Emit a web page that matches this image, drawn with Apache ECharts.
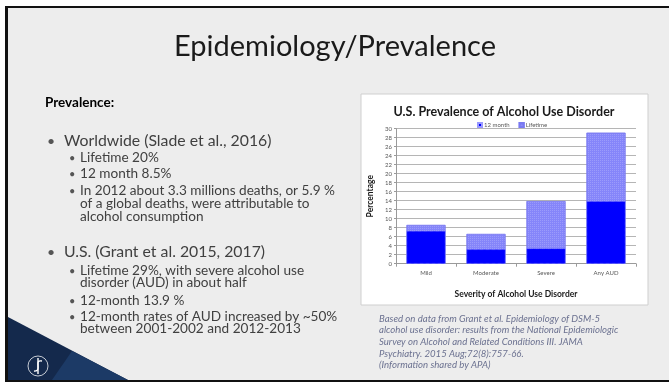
<!DOCTYPE html>
<html>
<head>
<meta charset="utf-8">
<script src="https://cdn.jsdelivr.net/npm/echarts@6/dist/echarts.min.js"></script>
<style>
  html, body { margin: 0; padding: 0; background: #ededed; }
  #slide { width: 669px; height: 382px; }
</style>
</head>
<body>
<div id="slide"></div>
<script>
// Chart data: U.S. prevalence of alcohol use disorder (%)
const categories = ['Mild', 'Moderate', 'Severe', 'Any AUD'];
const month12 = [7.3, 3.2, 3.4, 13.9];
const lifetime = [8.6, 6.6, 13.9, 29.1];
const seriesNames = ['12 month', 'Lifetime'];
const yMin = 0, yMax = 30, yStep = 2;

// Slide text
const slideTitle = 'Epidemiology/Prevalence';
const sectionHead = 'Prevalence:';
const bulletLines = [
  { level: 1, bullet: true,  y: 141, text: 'Worldwide (Slade et al., 2016)' },
  { level: 2, bullet: true,  y: 158, text: 'Lifetime 20%' },
  { level: 2, bullet: true,  y: 174, text: '12 month 8.5%' },
  { level: 2, bullet: true,  y: 191, text: 'In 2012 about 3.3 millions deaths, or 5.9 %' },
  { level: 2, bullet: false, y: 204, text: 'of a global deaths, were attributable to' },
  { level: 2, bullet: false, y: 217, text: 'alcohol consumption' },
  { level: 1, bullet: true,  y: 252, text: 'U.S. (Grant et al. 2015, 2017)' },
  { level: 2, bullet: true,  y: 271, text: 'Lifetime 29%, with severe alcohol use' },
  { level: 2, bullet: false, y: 283, text: 'disorder (AUD) in about half' },
  { level: 2, bullet: true,  y: 301, text: '12-month 13.9 %' },
  { level: 2, bullet: true,  y: 317, text: '12-month rates of AUD increased by ~50%' },
  { level: 2, bullet: false, y: 329, text: 'between 2001-2002 and 2012-2013' }
];
const citation = [
  'Based on data from Grant et al. Epidemiology of DSM-5',
  'alcohol use disorder: results from the National Epidemiologic',
  'Survey on Alcohol and Related Conditions III. JAMA',
  'Psychiatry. 2015 Aug;72(8):757-66.',
  '(Information shared by APA)'
];
const citationY = [319, 330, 342, 354, 365];

const chart = echarts.init(document.getElementById('slide'), null, { renderer: 'canvas' });

const graphics = [];
// slide frame
graphics.push({ type: 'rect', z: -10, shape: { x: 0, y: 0, width: 669, height: 382 }, style: { fill: '#ffffff' } });
graphics.push({ type: 'rect', z: -9, shape: { x: 5, y: 6, width: 670, height: 376 }, style: { fill: '#111111' } });
graphics.push({ type: 'rect', z: -8, shape: { x: 8, y: 8, width: 670, height: 372 }, style: { fill: '#ededed' } });
// navy corner
graphics.push({ type: 'polygon', z: -7, shape: { points: [[8, 317], [128, 380], [8, 380]] }, style: { fill: '#14294c' } });
graphics.push({ type: 'polygon', z: -6, shape: { points: [[52, 380], [128, 380], [72, 351]] }, style: { fill: '#1c3a66' } });
// logo
graphics.push({ type: 'circle', z: -5, shape: { cx: 38, cy: 366, r: 10 }, style: { fill: 'none', stroke: 'rgba(255,255,255,0.75)', lineWidth: 1 } });
graphics.push({ type: 'line', z: -5, shape: { x1: 38, y1: 358, x2: 38, y2: 374 }, style: { stroke: '#ffffff', lineWidth: 1.4 } });
graphics.push({ type: 'bezierCurve', z: -5, shape: { x1: 42, y1: 361, cpx1: 33, cpy1: 359, cpx2: 43, cpy2: 372, x2: 34, y2: 371 }, style: { fill: 'none', stroke: '#ffffff', lineWidth: 1.3 } });

// chart panel
graphics.push({ type: 'rect', z: -4, shape: { x: 361, y: 94, width: 287, height: 211 }, style: { fill: '#ffffff', stroke: '#cfcfcf', lineWidth: 1 } });

// slide title
graphics.push({ type: 'text', x: 335, y: 47, style: { text: slideTitle, font: '29px Lato', fill: '#1a1a1a', align: 'center', verticalAlign: 'middle' } });
graphics.push({ type: 'text', x: 45, y: 103, style: { text: sectionHead, font: 'bold 13.5px Lato', fill: '#000000', verticalAlign: 'middle' } });

bulletLines.forEach(function (b) {
  const isTop = b.level === 1;
  const textX = isTop ? 64 : 80;
  const bulletX = isTop ? 47 : 69;
  const font = isTop ? '15.8px Lato' : '13.6px Lato';
  if (b.bullet) {
    graphics.push({ type: 'text', x: bulletX, y: b.y, style: { text: '\u2022', font: isTop ? '14px Lato' : '11px Lato', fill: '#555555', verticalAlign: 'middle' } });
  }
  graphics.push({ type: 'text', x: textX, y: b.y, style: { text: b.text, font: font, fill: '#404040', verticalAlign: 'middle' } });
});

citation.forEach(function (line, i) {
  graphics.push({ type: 'text', x: 379, y: citationY[i], style: { text: line, font: 'italic 9.6px Lato', fill: '#6b7190', verticalAlign: 'middle' } });
});

const option = {
  animation: false,
  textStyle: { fontFamily: 'Lato' },
  graphic: { elements: graphics },
  title: {
    text: 'U.S. Prevalence of Alcohol Use Disorder',
    left: 499, top: 100, textAlign: 'center',
    textStyle: { fontFamily: 'Lato', fontWeight: 'bold', fontSize: 12.5, color: '#1a1a1a' }
  },
  legend: {
    data: seriesNames,
    left: 472, top: 117,
    itemWidth: 4, itemHeight: 4, itemGap: 9,
    icon: 'rect',
    textStyle: { fontSize: 6, color: '#595959', padding: [0, 0, 0, -3] }
  },
  grid: { left: 396, right: 33, top: 128.7, bottom: 118.3 },
  xAxis: {
    type: 'category',
    data: categories,
    name: 'Severity of Alcohol Use Disorder',
    nameLocation: 'middle', nameGap: 26,
    nameTextStyle: { fontWeight: 'bold', fontSize: 8.5, color: '#1a1a1a' },
    axisLine: { lineStyle: { color: '#9a9a9a' } },
    axisTick: { show: true, length: 3, lineStyle: { color: '#9a9a9a' } },
    axisLabel: { fontSize: 6, color: '#595959', margin: 6 }
  },
  yAxis: {
    type: 'value', min: yMin, max: yMax, interval: yStep,
    name: 'Percentage',
    nameLocation: 'middle', nameGap: 21, nameRotate: 90,
    nameTextStyle: { fontWeight: 'bold', fontSize: 8.5, color: '#1a1a1a' },
    axisLine: { show: true, lineStyle: { color: '#9a9a9a' } },
    axisTick: { show: true, length: 2, lineStyle: { color: '#9a9a9a' } },
    axisLabel: { fontSize: 6, color: '#595959', margin: 4 },
    splitLine: { lineStyle: { color: '#b5b5b5', width: 1 } }
  },
  series: [
    {
      name: 'Lifetime', type: 'bar', data: lifetime, barWidth: '65%', barGap: '-100%', z: 2,
      itemStyle: {
        color: '#8585fa', borderColor: '#7a7af0', borderWidth: 0.6,
        decal: { symbol: 'rect', symbolSize: 1, dashArrayX: [1, 1], dashArrayY: [1, 1], color: 'rgba(255,255,255,0.18)' }
      }
    },
    {
      name: '12 month', type: 'bar', data: month12, barWidth: '65%', barGap: '-100%', z: 3,
      itemStyle: { color: '#0000ff', borderColor: '#9a9aff', borderWidth: 0.6, borderType: 'dotted' }
    }
  ]
};
chart.setOption(option);
</script>
</body>
</html>
